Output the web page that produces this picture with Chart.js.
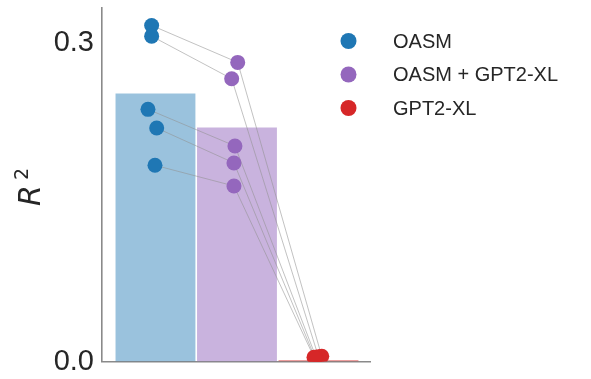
<!DOCTYPE html>
<html><head><meta charset="utf-8">
<script src="https://cdn.jsdelivr.net/npm/chart.js@4.4.1/dist/chart.umd.min.js"></script>
<style>html,body{margin:0;padding:0;background:#fff;overflow:hidden}</style>
</head><body>
<canvas id="c" width="591" height="379"></canvas>
<script>
// ---- data ----
const categories = ['OASM', 'OASM + GPT2-XL', 'GPT2-XL'];
const barMeans = [0.2525, 0.2205, 0.0015];
const oasmScores = [0.3165, 0.3064, 0.2375, 0.2199, 0.1848];
const comboScores = [0.2817, 0.2663, 0.2030, 0.1870, 0.1653];
const gptScores = [0.0050, 0.0045, 0.0040, 0.0035, 0.0040];
const oasmJitter = [-0.047, -0.047, -0.092, 0.015, -0.006];
const comboJitter = [0.009, -0.065, -0.025, -0.037, -0.037];
const gptJitter = [0.040, 0.000, -0.030, -0.043, -0.055];
const yTicks = [0.0, 0.3];
const yLabel = 'R';
const yLabelSup = '2';

// ---- styling ----
const colors = ['#1f77b4', '#9467bd', '#d62728'];
const barColors = ['rgba(31,119,180,0.45)', 'rgba(148,103,189,0.5)', 'rgba(214,39,40,0.45)'];
const textColor = '#262626';
const axisColor = '#8a8a8a';

const scoreSets = [oasmScores, comboScores, gptScores];
const jitterSets = [oasmJitter, comboJitter, gptJitter];

const datasets = [];
datasets.push({
  type: 'bar',
  data: categories.map((c, i) => ({x: i, y: barMeans[i]})),
  backgroundColor: barColors,
  borderColor: barColors,
  borderWidth: 0,
  barPercentage: 0.98,
  categoryPercentage: 1,
  order: 3
});
for (let s = 0; s < oasmScores.length; s++) {
  datasets.push({
    type: 'line',
    data: scoreSets.map((arr, ci) => ({x: ci + jitterSets[ci][s], y: arr[s]})),
    borderColor: 'rgba(145,145,145,0.7)',
    borderWidth: 0.8,
    pointRadius: 0,
    fill: false,
    order: 2
  });
}
scoreSets.forEach((arr, ci) => {
  datasets.push({
    type: 'scatter',
    label: categories[ci],
    data: arr.map((v, k) => ({x: ci + jitterSets[ci][k], y: v})),
    backgroundColor: colors[ci],
    borderColor: colors[ci],
    borderWidth: 0,
    pointRadius: 7.5,
    pointHoverRadius: 7.5,
    order: 1
  });
});

const extras = {
  id: 'extras',
  afterDraw(chart) {
    const ctx = chart.ctx;
    ctx.save();
    // legend
    ctx.font = '20px "Liberation Sans", Arial, sans-serif';
    ctx.textBaseline = 'middle';
    ctx.textAlign = 'left';
    const ly = [41, 74.5, 108];
    categories.forEach((c, i) => {
      ctx.fillStyle = colors[i];
      ctx.beginPath();
      ctx.arc(348.5, ly[i], 8, 0, Math.PI * 2);
      ctx.fill();
      ctx.fillStyle = textColor;
      ctx.fillText(c, 393, ly[i] + 1);
    });
    // y label R^2
    ctx.translate(40, 205);
    ctx.rotate(-Math.PI / 2);
    ctx.fillStyle = textColor;
    ctx.textBaseline = 'alphabetic';
    ctx.font = 'italic 30px "DejaVu Sans", sans-serif';
    ctx.fillText(yLabel, -1, 0);
    ctx.font = '19px "DejaVu Sans", sans-serif';
    ctx.fillText(yLabelSup, 25, -12);
    ctx.restore();
  }
};

new Chart(document.getElementById('c'), {
  type: 'bar',
  data: {datasets},
  options: {
    responsive: false,
    devicePixelRatio: 1,
    animation: false,
    layout: {padding: {left: 0, top: 7, right: 221, bottom: 17.5}},
    plugins: {legend: {display: false}, tooltip: {enabled: false}},
    scales: {
      x: {
        type: 'linear',
        offset: false,
        min: -0.656, max: 2.632,
        afterBuildTicks: s => { s.ticks = categories.map((c, i) => ({value: i})); },
        grid: {display: false, drawTicks: false},
        ticks: {display: false},
        border: {display: true, color: axisColor, width: 1.6},
        afterFit: s => { s.height = 0; s.paddingLeft = 0; s.paddingRight = 0; }
      },
      y: {
        type: 'linear',
        min: 0, max: 0.3334,
        afterBuildTicks: s => { s.ticks = yTicks.map(v => ({value: v})); },
        grid: {display: false, drawTicks: false},
        border: {display: true, color: axisColor, width: 1.6},
        ticks: {
          padding: 8,
          color: textColor,
          font: {family: '"Liberation Sans", Arial, sans-serif', size: 29},
          callback: v => Number(v).toFixed(1)
        },
        afterFit: s => { s.width = 102; s.paddingTop = 0; s.paddingBottom = 0; }
      }
    }
  },
  plugins: [extras]
});
</script>
</body></html>
